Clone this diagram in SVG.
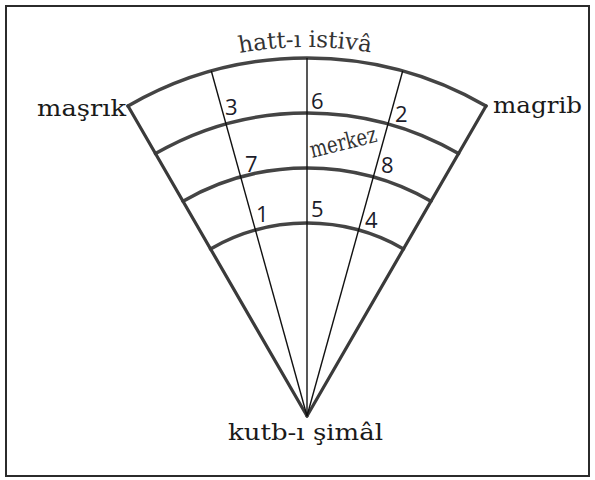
<svg xmlns="http://www.w3.org/2000/svg" width="595" height="480" viewBox="0 0 595 480">
  <defs>
    <style>
      .frame { fill: #ffffff; stroke: #2b2b2b; stroke-width: 2; }
      .arc { fill: none; stroke: #444444; stroke-width: 3.5; stroke-linecap: round; }
      .edge { fill: none; stroke: #3a3a3a; stroke-width: 3.2; stroke-linecap: round; }
      .ray { fill: none; stroke: #111111; stroke-width: 1.4; }
      .lbl { font-family: "DejaVu Serif", "Liberation Serif", serif; font-size: 23px; fill: #1a1a1a; }
      .num { font-family: "Open Sans", "Liberation Sans", sans-serif; font-size: 22px; fill: #1c1c2a; }
      .soft { fill: #333333; }
    </style>
    <path id="equatorPath" d="M 122.5 96.4 A 369 369 0 0 1 491.5 96.4"/>
  </defs>

  <rect id="frame" class="frame" x="6" y="6" width="583" height="470"/>

  <g id="arcs">
    <path class="arc" d="M 128 106 A 358 358 0 0 1 486 106"/>
    <path class="arc" d="M 155.5 153.6 A 303 303 0 0 1 458.5 153.6"/>
    <path class="arc" d="M 183 201.2 A 248 248 0 0 1 431 201.2"/>
    <path class="arc" d="M 210.5 248.9 A 193 193 0 0 1 403.5 248.9"/>
  </g>

  <g id="connectors">
    <line class="edge" x1="307" y1="416" x2="128" y2="106"/>
    <line class="edge" x1="307" y1="416" x2="486" y2="106"/>
    <line class="ray" x1="307" y1="416" x2="211.3" y2="71"/>
    <line class="ray" x1="307" y1="416" x2="307" y2="58"/>
    <line class="ray" x1="307" y1="416" x2="402.7" y2="71"/>
  </g>

  <g id="node-hatt">
    <text class="lbl soft"><textPath href="#equatorPath" startOffset="49.5%" text-anchor="middle">hatt-ı istivâ</textPath></text>
  </g>
  <g id="node-masrik">
    <text class="lbl" x="37" y="116" textLength="89" lengthAdjust="spacingAndGlyphs">maşrık</text>
  </g>
  <g id="node-magrib">
    <text class="lbl" x="493" y="113" textLength="89" lengthAdjust="spacingAndGlyphs">magrib</text>
  </g>
  <g id="node-kutb">
    <text class="lbl" x="228" y="440" textLength="155" lengthAdjust="spacingAndGlyphs">kutb-ı şimâl</text>
  </g>
  <g id="node-merkez">
    <text class="lbl soft" x="0" y="0" font-size="17" textLength="68" lengthAdjust="spacingAndGlyphs" transform="translate(312 158) rotate(-14)">merkez</text>
  </g>

  <g id="numbers">
    <text class="num" x="225" y="115">3</text>
    <text class="num" x="311" y="109">6</text>
    <text class="num" x="395" y="122">2</text>
    <text class="num" x="245" y="172">7</text>
    <text class="num" x="381" y="173">8</text>
    <text class="num" x="256" y="222">1</text>
    <text class="num" x="311" y="217">5</text>
    <text class="num" x="365" y="228">4</text>
  </g>
</svg>
